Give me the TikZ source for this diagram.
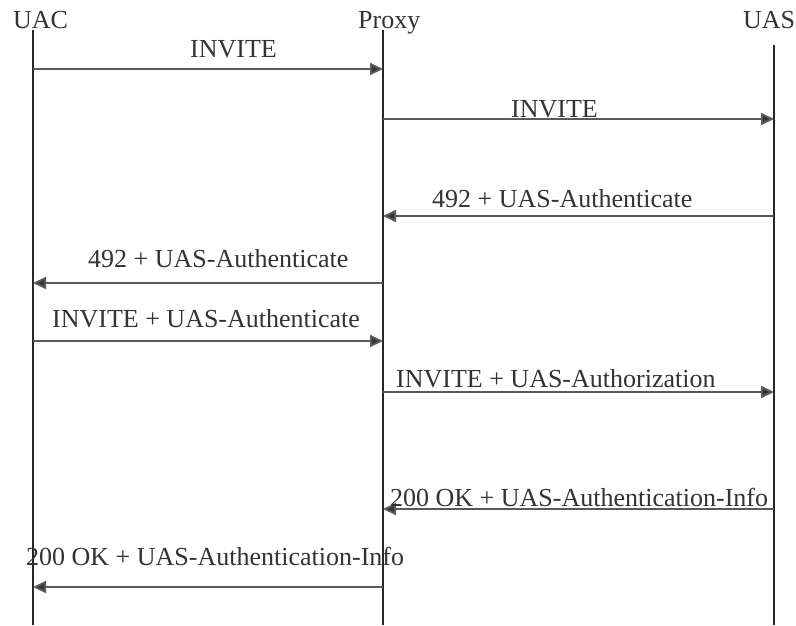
\documentclass[tikz,border=0pt]{standalone}
\usepackage{fontspec}
\setmainfont{Liberation Serif}
\usetikzlibrary{arrows.meta}
\begin{document}
\begin{tikzpicture}[x=1pt,y=-1pt,
  lifeline/.style={draw=black!85, line width=1.4pt},
  msg/.style={draw=black!65, line width=2pt, -{Triangle[length=13pt,width=12pt,fill=black!80]}},
  head/.style={anchor=base west, inner sep=0pt, font=\fontsize{26}{28}\selectfont, text=black!80},
  lbl/.style={anchor=base west, inner sep=0pt, font=\fontsize{26}{28}\selectfont, text=black!80}]
\useasboundingbox (0,0) rectangle (796,625);

% participants
\node[head] (uac) at (13,28) {UAC};
\node[head] (proxy) at (358,28) {Proxy};
\node[head] (uas) at (743,28) {UAS};

% lifelines
\coordinate (uacT) at (33,30);   \coordinate (uacB) at (33,625);
\coordinate (proT) at (383,30);  \coordinate (proB) at (383,625);
\coordinate (uasT) at (774,45);  \coordinate (uasB) at (774,625);
\draw[lifeline] (uacT) -- (uacB);
\draw[lifeline] (proT) -- (proB);
\draw[lifeline] (uasT) -- (uasB);

% message anchor points on the lifelines
\foreach \n/\y in {1/69,2/119,3/216,4/283,5/341,6/392,7/509,8/587}{
  \coordinate (c\n) at (33,\y);
  \coordinate (p\n) at (383,\y);
  \coordinate (s\n) at (774,\y);
}

% messages
\draw[msg] (c1) -- (p1);
\node[lbl] (m1) at (190,57) {INVITE};
\draw[msg] (p2) -- (s2);
\node[lbl] (m2) at (511,117) {INVITE};
\draw[msg] (s3) -- (p3);
\node[lbl] (m3) at (432,207) {492 + UAS-Authenticate};
\draw[msg] (p4) -- (c4);
\node[lbl] (m4) at (88,267) {492 + UAS-Authenticate};
\draw[msg] (c5) -- (p5);
\node[lbl] (m5) at (52,327) {INVITE + UAS-Authenticate};
\draw[msg] (p6) -- (s6);
\node[lbl] (m6) at (396,387) {INVITE + UAS-Authorization};
\draw[msg] (s7) -- (p7);
\node[lbl] (m7) at (390,506) {200 OK + UAS-Authentication-Info};
\draw[msg] (p8) -- (c8);
\node[lbl] (m8) at (26,565) {200 OK + UAS-Authentication-Info};
\end{tikzpicture}
\end{document}
